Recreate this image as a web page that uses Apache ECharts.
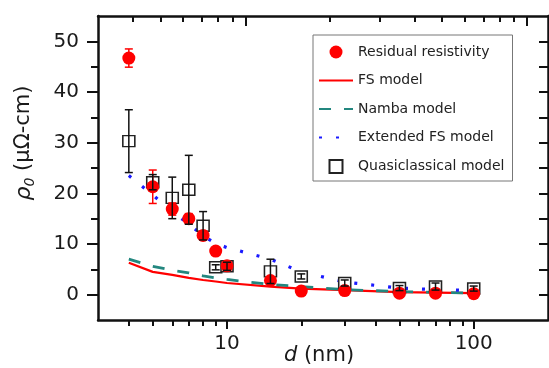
<!DOCTYPE html>
<html>
<head>
<meta charset="utf-8">
<script src="https://cdn.jsdelivr.net/npm/echarts@6/dist/echarts.min.js"></script>
<style>
  html, body { margin: 0; padding: 0; background: #fff; }
  #chart { width: 549px; height: 368px; }
</style>
</head>
<body>
<div id="chart"></div>
<script>
// film thickness d (nm)
const sizes = [4, 5, 6, 7, 8, 9, 10, 15, 20, 30, 50, 70, 100];

// measured residual resistivity (uOhm-cm) and its error
const residual    = [46.7, 21.3, 16.9, 15.0, 11.7, 8.6, 5.7, 2.8, 0.7, 0.8, 0.3, 0.3, 0.2];
const residualErr = [1.8, 3.3, 1.2, 1.0, 0.8, 0.5, 0.4, 0.3, 0.3, 0.3, 0.3, 0.3, 0.3];

// quasiclassical model and its error
const quasi    = [30.3, 22.2, 19.1, 20.7, 13.6, 5.4, 5.6, 4.6, 3.6, 2.3, 1.3, 1.6, 1.2];
const quasiErr = [6.2, 1.5, 4.1, 6.8, 2.8, 0.5, 0.8, 2.4, 0.5, 0.6, 0.5, 0.7, 0.5];

// model curves
const fsModel    = [6.3, 4.5, 3.9, 3.3, 2.9, 2.6, 2.3, 1.6, 1.2, 0.9, 0.5, 0.4, 0.3];
const nambaModel = [7.0, 5.6, 4.8, 4.3, 3.7, 3.3, 3.0, 2.0, 1.6, 1.0, 0.6, 0.45, 0.3];
const extFsModel = [23.5, 19.7, 16.3, 14.0, 11.6, 10.1, 9.3, 7.0, 4.5, 2.5, 1.3, 1.0, 0.8];

// ticks
const yMajor = [0, 10, 20, 30, 40, 50];
const yMinor = [5, 15, 25, 35, 45];
const yAll = [0, 5, 10, 15, 20, 25, 30, 35, 40, 45, 50];
const xMajor = [10, 100];
const xMinor = [4, 5, 6, 7, 8, 9, 20, 30, 40, 50, 60, 70, 80, 90];

const FONT = "DejaVu Sans";
const AX = { onZero: false, lineStyle: { color: "#111", width: 2.5 } };
const NOLINE = { show: false, onZero: false };

const pairs = (ys) => sizes.map((d, i) => [d, ys[i]]);
const bars = (ys, es) => sizes.map((d, i) => [d, ys[i] - es[i], ys[i] + es[i]]);

function errorBar(color) {
  return function (params, api) {
    const x = api.value(0);
    const lo = api.coord([x, api.value(1)]);
    const hi = api.coord([x, api.value(2)]);
    const w = 4;
    const style = { stroke: color, lineWidth: 1.5 };
    return {
      type: "group",
      children: [
        { type: "line", shape: { x1: lo[0], y1: lo[1], x2: hi[0], y2: hi[1] }, style },
        { type: "line", shape: { x1: lo[0] - w, y1: lo[1], x2: lo[0] + w, y2: lo[1] }, style },
        { type: "line", shape: { x1: hi[0] - w, y1: hi[1], x2: hi[0] + w, y2: hi[1] }, style }
      ]
    };
  };
}

const chart = echarts.init(document.getElementById("chart"));

const option = {
  backgroundColor: "#fff",
  animation: false,
  textStyle: { fontFamily: FONT },
  grid: { left: 98, right: 1, top: 16, bottom: 48, outerBoundsMode: "none", containLabel: false },
  legend: {
    orient: "vertical",
    left: 313,
    top: 35,
    width: 194,
    padding: [10, 8, 7, 5],
    itemWidth: 34,
    itemHeight: 13,
    itemGap: 14.5,
    backgroundColor: "#fff",
    borderColor: "#777",
    borderWidth: 1,
    textStyle: { fontFamily: FONT, fontSize: 14, color: "#222" },
    data: [
      { name: "Residual resistivity" },
      { name: "FS model", itemStyle: { opacity: 0 } },
      { name: "Namba model", itemStyle: { opacity: 0 } },
      { name: "Extended FS model", itemStyle: { opacity: 0 } },
      { name: "Quasiclassical model", icon: "path://M0,0H10V10H0Z" }
    ]
  },
  xAxis: [
    {
      type: "log", min: 3, max: 200, position: "bottom",
      axisLine: AX,
      splitLine: { show: false }, minorTick: { show: false },
      axisTick: { customValues: xMajor, length: 9, lineStyle: { color: "#111", width: 2 } },
      axisLabel: { customValues: xMajor, margin: 14, fontSize: 20, color: "#1a1a1a", fontFamily: FONT },
      name: "{i|d} (nm)",
      nameLocation: "middle",
      nameGap: 25,
      nameMoveOverlap: false,
      nameTextStyle: {
        fontSize: 21, color: "#1a1a1a", fontFamily: FONT, padding: [0, 8, 0, 0],
        rich: { i: { fontSize: 21, fontStyle: "italic", color: "#1a1a1a", fontFamily: FONT } }
      }
    },
    {
      type: "log", min: 3, max: 200, position: "bottom",
      axisLine: NOLINE, splitLine: { show: false }, axisLabel: { show: false },
      axisTick: { customValues: xMinor, length: 6, lineStyle: { color: "#111", width: 2 } }
    },
    {
      type: "log", min: 3, max: 118.7, position: "top",
      axisLine: AX, splitLine: { show: false }, axisLabel: { show: false },
      axisTick: { inside: true, customValues: xMajor, length: 10, lineStyle: { color: "#111", width: 2 } }
    },
    {
      type: "log", min: 3, max: 118.7, position: "top",
      axisLine: NOLINE, splitLine: { show: false }, axisLabel: { show: false },
      axisTick: { inside: true, customValues: xMinor, length: 6, lineStyle: { color: "#111", width: 2 } }
    }
  ],
  yAxis: [
    {
      type: "value", min: -5, max: 55, position: "left",
      axisLine: AX, splitLine: { show: false },
      axisTick: { customValues: yMajor, length: 11, lineStyle: { color: "#111", width: 2 } },
      axisLabel: { customValues: yMajor, margin: 19, fontSize: 20, color: "#1a1a1a", fontFamily: FONT }
    },
    {
      type: "value", min: -5, max: 55, position: "left",
      axisLine: NOLINE, splitLine: { show: false }, axisLabel: { show: false },
      axisTick: { customValues: yMinor, length: 7, lineStyle: { color: "#111", width: 2 } }
    },
    {
      type: "value", min: -5, max: 55, position: "right",
      axisLine: AX, splitLine: { show: false }, axisLabel: { show: false },
      axisTick: { inside: true, customValues: yAll, length: 9, lineStyle: { color: "#111", width: 2 } }
    }
  ],
  graphic: [
    {
      type: "text",
      x: 24, y: 143,
      rotation: Math.PI / 2,
      style: {
        text: "{i|ρ}{s|0} (μΩ-cm)",
        align: "center",
        verticalAlign: "middle",
        fill: "#1a1a1a",
        font: "21px 'DejaVu Sans'",
        rich: {
          i: { fontStyle: "italic", fontSize: 22, fontFamily: FONT, fill: "#1a1a1a" },
          s: { fontStyle: "italic", fontSize: 14, fontFamily: FONT, fill: "#1a1a1a", padding: [12, 0, 0, 0] }
        }
      }
    }
  ],
  series: [
    {
      name: "FS model", type: "line", data: pairs(fsModel), symbol: "none", z: 2,
      itemStyle: { color: "#ff0000" }, lineStyle: { color: "#ff0000", width: 2.2 }
    },
    {
      name: "Namba model", type: "line", data: pairs(nambaModel), symbol: "none", z: 3,
      itemStyle: { color: "#23877f" }, lineStyle: { color: "#23877f", width: 2.8, type: [12, 13] }
    },
    {
      name: "Extended FS model", type: "line", data: pairs(extFsModel), symbol: "none", z: 3,
      itemStyle: { color: "#1a1aff" }, lineStyle: { color: "#1a1aff", width: 3.2, type: [3, 14] }
    },
    {
      name: "Quasiclassical model", type: "scatter", data: pairs(quasi), z: 4,
      symbol: "rect", symbolSize: [12, 11],
      itemStyle: { color: "#fff", borderColor: "#222", borderWidth: 1.5, opacity: 1 }
    },
    {
      name: "Residual resistivity", type: "scatter", data: pairs(residual), z: 5,
      symbol: "circle", symbolSize: 13,
      itemStyle: { color: "#ff0000", opacity: 1 }
    },
    {
      type: "custom", data: bars(residual, residualErr), z: 6,
      renderItem: errorBar("#ff0000"), silent: true
    },
    {
      type: "custom", data: bars(quasi, quasiErr), z: 7,
      renderItem: errorBar("#111"), silent: true
    }
  ]
};

chart.setOption(option);
</script>
</body>
</html>
